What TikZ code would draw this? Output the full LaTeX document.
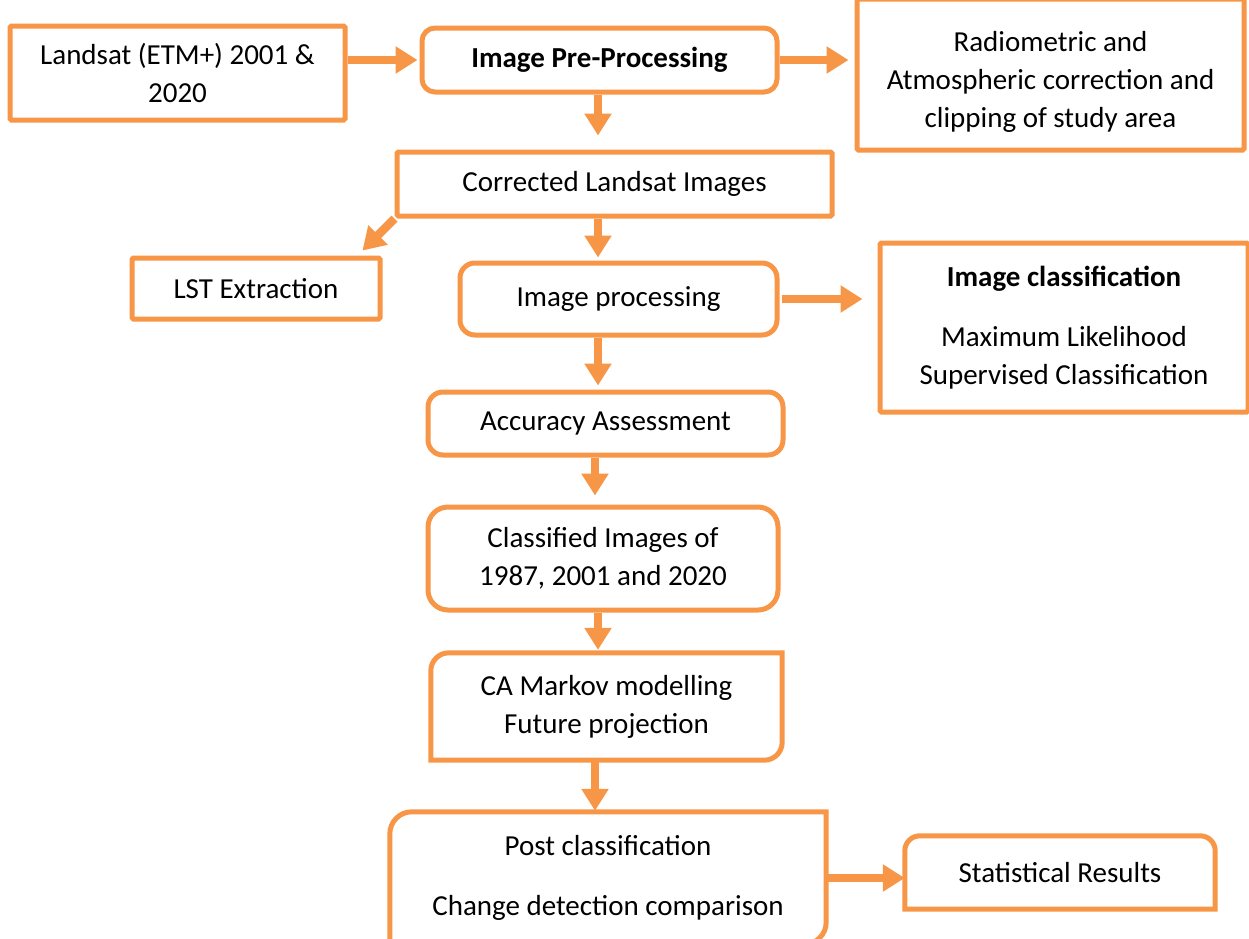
\documentclass[tikz,border=0pt]{standalone}
\usepackage{fontspec}
\setmainfont{Carlito}
\usetikzlibrary{arrows.meta,calc}
\definecolor{flowline}{HTML}{F79646}

\begin{document}
\begin{tikzpicture}[x=1pt,y=-1pt,>={Triangle[length=22pt,width=26pt]},
every node/.style={font=\fontsize{29}{38}\selectfont,align=center,inner sep=0pt,text=black},
box/.style={draw=flowline,line width=5pt,rounded corners=1.5pt},
rbox/.style={box,rounded corners=#1},
line/.style={draw=flowline,line width=5pt},
arr/.style={->,draw=flowline,line width=8.5pt}]
\useasboundingbox (0,0) rectangle (1249,938);
\coordinate (col) at (598,0);

\node[box,minimum width=335pt,minimum height=94pt]  (land)    at (177.5,73)   {Landsat (ETM+) 2001 \&\\2020};
\node[rbox=13pt,minimum width=355pt,minimum height=64pt] (pre) at (599.5,60) {\bfseries Image Pre-Processing};
\node[box,minimum width=387pt,minimum height=151pt] (radio)   at (1050.5,74.5) {};
\node (radiotext) at (1050.5,82) {Radiometric and\\Atmospheric correction and\\clipping of study area};
\node[box,minimum width=435pt,minimum height=64pt]  (corr)    at (614.5,184)  {Corrected Landsat Images};
\node[box,minimum width=248pt,minimum height=61pt]  (lst)     at (256,288.5)  {LST Extraction};
\node[rbox=15pt,minimum width=317pt,minimum height=72pt] (improc) at (618.5,299) {Image processing};
\node[box,minimum width=368pt,minimum height=169pt] (imclass) at (1064,327.5)
  {\bfseries Image classification\\[21.5pt]Maximum Likelihood\\Supervised Classification};
\node[rbox=15pt,minimum width=355pt,minimum height=63pt] (acc) at (605.5,423.5) {Accuracy Assessment};
\node[rbox=20pt,minimum width=350pt,minimum height=103pt] (cls) at (603,558.5) {Classified Images of\\1987, 2001 and 2020};
\node[minimum width=351pt,minimum height=107pt] (ca) at (606.5,706.5) {CA Markov modelling\\Future projection};
\node[minimum width=436pt,minimum height=132pt] (post) at (608,878) {Post classification\\[22.5pt]Change detection comparison};
\node[minimum width=310pt,minimum height=73pt] (stat) at (1060,872.5) {Statistical Results};

% boxes with only some corners rounded
\path[line] (ca.south west) -- ([yshift=-18pt]ca.north west) arc[start angle=180,end angle=90,radius=18pt]
  -- (ca.north east) -- ([yshift=18pt]ca.south east) arc[start angle=0,end angle=-90,radius=18pt] -- cycle;
\path[line] (post.south west) -- ([yshift=-22pt]post.north west) arc[start angle=180,end angle=90,radius=22pt]
  -- (post.north east) -- ([yshift=22pt]post.south east) arc[start angle=0,end angle=-90,radius=22pt] -- cycle;
\path[line] (stat.south west) -- ([yshift=-15pt]stat.north west) arc[start angle=180,end angle=90,radius=15pt]
  -- ([xshift=-15pt]stat.north east) arc[start angle=90,end angle=0,radius=15pt] -- (stat.south east) -- cycle;

\draw[arr,shorten >=2pt] (land.east |- pre.west) -- (pre.west);
\draw[arr,shorten >=6pt] (pre.east) -- (pre.east -| radio.west);
\draw[arr,shorten >=14pt] (pre.south -| col) -- (corr.north -| col);
\draw[arr,shorten >=7pt] (corr.south west) -- ($(lst.north east)+(-25,0)$);
\draw[arr,shorten >=3pt] (corr.south -| col) -- (improc.north -| col);
\draw[arr,shorten <=2pt,shorten >=15pt] (improc.east) -- (improc.east -| imclass.west);
\draw[arr,shorten >=4pt] (improc.south -| col) -- (acc.north -| col);
\draw[arr,shorten >=9pt] ([xshift=-3pt]acc.south -| col) -- ([xshift=-3pt]cls.north -| col);
\draw[arr,shorten >=3pt] (cls.south -| col) -- (ca.north -| col);
\draw[arr,shorten >=1pt] ([xshift=-3pt]ca.south -| col) -- ([xshift=-3pt]post.north -| col);
\draw[arr] (post.east) -- (post.east -| stat.west);
\end{tikzpicture}
\end{document}
